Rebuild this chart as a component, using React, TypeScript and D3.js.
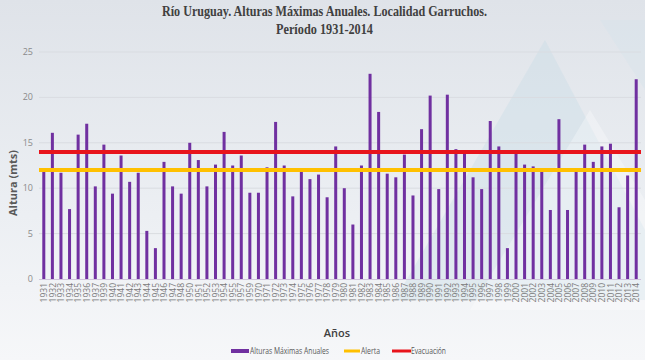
import React from "react";
import * as d3 from "d3";

const years = [
  "1931","1932","1933","1934","1935","1936","1937","1939","1940","1941","1942","1943","1944","1945","1946","1947","1948",
  "1950","1951","1952","1953","1954","1955","1957","1959",
  "1970","1971","1972","1973","1974","1975","1976","1977","1978","1979",
  "1980","1981","1982","1983","1984","1985","1986","1987","1988","1989",
  "1990","1991","1992","1993","1994","1995","1996","1997","1998","1999",
  "2000","2001","2002","2003","2004","2005","2006","2007","2008","2009",
  "2010","2011","2012","2013","2014",
];
const alturas = [
  12.2,16.1,11.7,7.7,15.9,17.1,10.2,14.8,9.4,13.6,10.7,11.7,5.3,3.4,12.9,10.2,9.4,
  15.0,13.1,10.2,12.6,16.2,12.5,13.6,9.5,
  9.5,12.3,17.3,12.5,9.1,12.2,11.0,11.5,9.0,14.6,
  10.0,6.0,12.5,22.6,18.4,11.6,11.2,13.7,9.2,16.5,
  20.2,9.9,20.3,14.3,13.8,11.2,9.9,17.4,14.6,3.4,
  14.2,12.6,12.4,11.8,7.6,17.6,7.6,12.2,14.8,12.9,
  14.6,14.9,7.9,11.4,22.0,
];
const alerta = 12;
const evacuacion = 14;
const yTicks = [0, 5, 10, 15, 20, 25];
const titleLines = ["Río Uruguay. Alturas Máximas Anuales. Localidad Garruchos.", "Período 1931-2014"];
const legendItems = ["Alturas Máximas Anuales", "Alerta", "Evacuación"];

export default function App() {
  const W = 645, H = 360;
  const x = d3.scaleBand<string>().domain(years).range([39.5, 640.5]).paddingInner(0.65).paddingOuter(0.325);
  const y = d3.scaleLinear().domain([0, 25]).range([279, 52]);
  const sans = "Open Sans, Liberation Sans, sans-serif";
  const barColor = "#7030a0";
  const yellow = "#ffc000";
  const red = "#e8141c";
  return (
    <svg width={W} height={H} style={{ position: "absolute", left: 0, top: 0 }}>
      <defs>
        <linearGradient id="bg" x1="0" y1="0" x2="0" y2="1">
          <stop offset="0" stopColor="#dfe3e9" />
          <stop offset="0.6" stopColor="#eceff3" />
          <stop offset="1" stopColor="#f6f7f9" />
        </linearGradient>
      </defs>
      <rect width={W} height={H} fill="url(#bg)" />
      <polygon points="545,40 395,300 645,300 645,230" fill="#c9dbe6" opacity={0.4} />
      <polygon points="590,110 470,310 645,310 645,200" fill="#ffffff" opacity={0.3} />
      <polygon points="600,20 645,90 645,20" fill="#d3e2ea" opacity={0.35} />
      {yTicks.map((t) => (
        <g key={t}>
          {t > 0 && <line x1={39} x2={641} y1={y(t)} y2={y(t)} stroke="#d9dce1" strokeWidth={1} />}
          <text x={33} y={y(t) + 3} textAnchor="end" fontFamily={sans} fontSize={9} fill="#8a8a8a">{t}</text>
        </g>
      ))}
      <line x1={39} x2={641} y1={279.5} y2={279.5} stroke="#d0c4dc" strokeWidth={1} />
      {years.map((yr, i) => (
        <rect key={yr} x={x(yr)} y={y(alturas[i])} width={x.bandwidth()} height={y(0) - y(alturas[i])} fill={barColor} />
      ))}
      <line x1={39} x2={641} y1={y(alerta)} y2={y(alerta)} stroke={yellow} strokeWidth={4} />
      <line x1={39} x2={641} y1={y(evacuacion)} y2={y(evacuacion)} stroke={red} strokeWidth={4} />
      {years.map((yr) => {
        const cx = (x(yr) as number) + x.bandwidth() / 2;
        return (
          <text key={yr} transform={`translate(${cx + 3.2},283) rotate(-90)`} textAnchor="end" fontFamily={sans} fontSize={8.5} fill="#7a7a7a">{yr}</text>
        );
      })}
      <text x={324.5} y={16} textAnchor="middle" fontFamily="Liberation Serif, serif" fontWeight="bold" fontSize={14} fill="#404040" textLength={325} lengthAdjust="spacingAndGlyphs">{titleLines[0]}</text>
      <text x={324.5} y={34} textAnchor="middle" fontFamily="Liberation Serif, serif" fontWeight="bold" fontSize={14} fill="#404040" textLength={97} lengthAdjust="spacingAndGlyphs">{titleLines[1]}</text>
      <text transform="translate(17,183) rotate(-90)" textAnchor="middle" fontFamily={sans} fontWeight="bold" fontSize={11} fill="#595959">Altura (mts)</text>
      <text x={337} y={337} textAnchor="middle" fontFamily={sans} fontWeight="600" fontSize={11} fill="#404040">Años</text>
      <rect x={231} y={349} width={18} height={4} fill={barColor} />
      <text x={250} y={354} fontFamily={sans} fontSize={8.5} fill="#595959" textLength={79} lengthAdjust="spacingAndGlyphs">{legendItems[0]}</text>
      <line x1={344} x2={360} y1={351} y2={351} stroke={yellow} strokeWidth={3} />
      <text x={361} y={354} fontFamily={sans} fontSize={8.5} fill="#595959" textLength={19} lengthAdjust="spacingAndGlyphs">{legendItems[1]}</text>
      <line x1={392} x2={411} y1={351} y2={351} stroke={red} strokeWidth={3} />
      <text x={411} y={354} fontFamily={sans} fontSize={8.5} fill="#595959" textLength={35} lengthAdjust="spacingAndGlyphs">{legendItems[2]}</text>
    </svg>
  );
}
